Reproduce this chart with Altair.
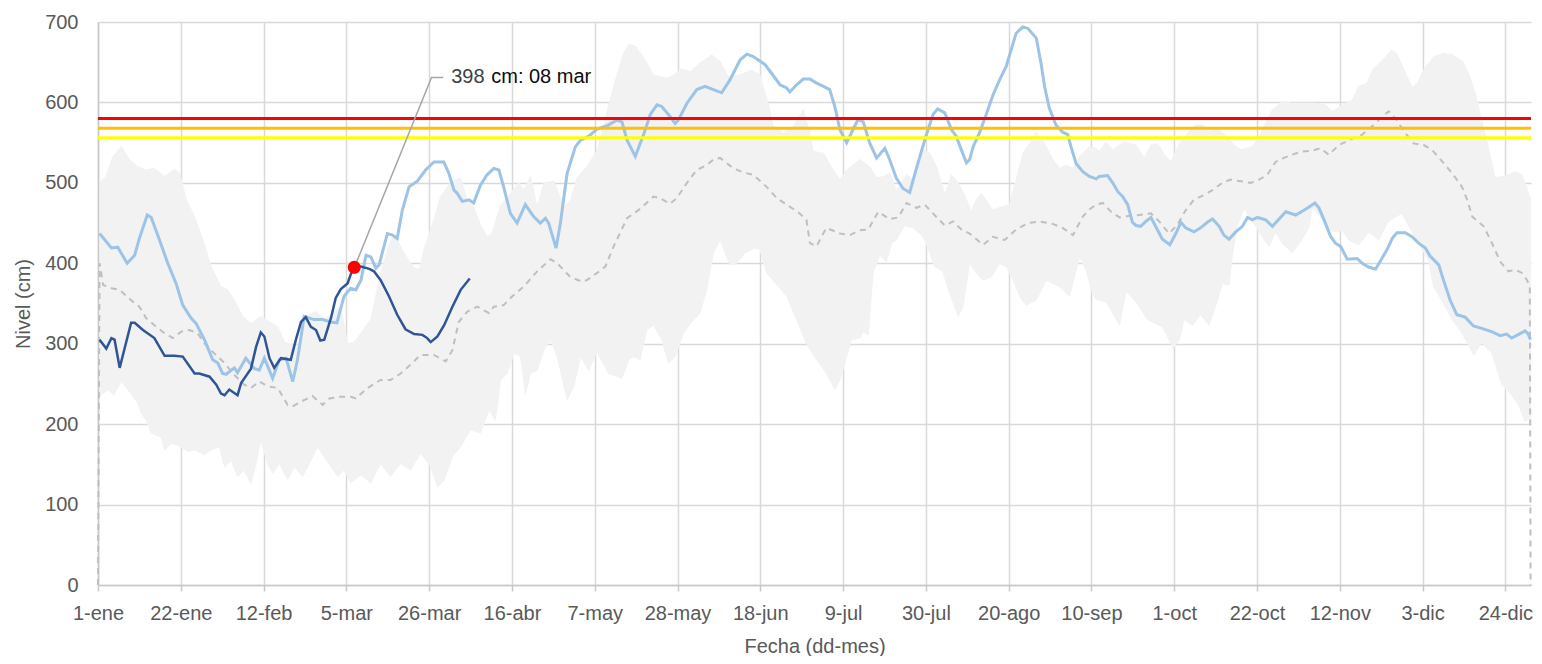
import altair as alt
import pandas as pd

# ---------------- axis text ----------------
tick_days = [0, 21, 42, 63, 84, 105, 126, 147, 168, 189, 210, 231, 252, 273, 294, 315, 336, 357]
tick_labels = ['1-ene', '22-ene', '12-feb', '5-mar', '26-mar', '16-abr', '7-may', '28-may', '18-jun',
               '9-jul', '30-jul', '20-ago', '10-sep', '1-oct', '22-oct', '12-nov', '3-dic', '24-dic']
y_ticks = [0, 100, 200, 300, 400, 500, 600, 700]

# ---------------- historical band (max / min) ----------------
band_hi_day = [0.4, 2, 3.8, 5.9, 8, 10.1, 12.2, 14.3, 16.9, 19.4, 20.7, 22.4, 24.5, 26.6, 28.7, 31.2, 32.9,
               34.6, 36.7, 38.8, 41.3, 43.5, 45.6, 47.3, 50.6, 52.7, 55.3, 57.4, 59.9, 61.6, 63.3, 65,
               69.2, 71.7, 74.2, 75.5, 77.6, 80.2, 81.5, 82.7, 85.2, 86.9, 89.4, 91.9, 93.7, 95.3, 97,
               98.7, 99.9, 102, 104.6, 106.7, 108, 109.7, 111.4, 113.1, 115.7, 118.2, 119.9, 121.5, 124,
               126.6, 130.8, 133.3, 134.6, 136.3, 138.8, 140.9, 144.3, 146, 148.1, 150.2, 152.7, 155.7,
               157.8, 159.9, 162.9, 165.8, 167.9, 170, 171.3, 173.8, 176.4, 178.9, 180.6, 181.4, 184,
               186.5, 188.2, 189.9, 193.2, 195.8, 197.5, 199.3, 200.8, 202.5, 205.1, 206.8, 209.3, 211,
               212.7, 214.8, 216.5, 218.2, 219.8, 221.5, 222.8, 224.1, 227, 229.1, 231.2, 232.9, 234.6,
               236.3, 238, 240.1, 242.2, 243.9, 245.6, 247.3, 249, 251.5, 253.2, 254, 255.7, 257.4, 260.3,
               263.3, 265.4, 267.1, 268.8, 270.5, 272.2, 274.3, 276.4, 278.5, 280.2, 281.8, 284, 286.1,
               288.2, 289.9, 292.8, 294.5, 297.9, 300.4, 302.9, 308.9, 311.4, 313.1, 316.5, 318.2, 319.8,
               321.9, 323.5, 325.6, 328.1, 329.4, 331.7, 333.4, 334.7, 336.4, 338.9, 341.4, 343.5, 346.2,
               347.8, 349.5, 350.6, 351.9, 354.4, 357.8, 359.5, 361.2, 362.6, 363.4]
band_hi_val = [500, 508, 533, 545, 529, 520, 516, 518, 508, 517, 512, 479, 458, 429, 396, 371, 367,
               354, 334, 325, 334, 327, 321, 302, 296, 334, 340, 330, 340, 346, 300, 302,
               330, 388, 429, 433, 413, 394, 392, 417, 454, 483, 500, 506, 479, 470, 448,
               433, 437, 470, 487, 500, 491, 508, 470, 500, 502, 470, 479, 506, 520,
               540, 620, 661, 672, 670, 653, 634, 630, 634, 642, 638, 649, 659,
               651, 632, 634, 640, 634, 599, 570, 562, 570, 591, 562, 539, 537,
               516, 504, 516, 529, 520, 506, 508, 512, 491, 510, 504, 541, 537,
               520, 485, 510, 500, 485, 464, 479, 487, 466, 470, 473, 504, 537,
               549, 563, 549, 529, 518, 522, 518, 533, 545, 543, 539, 551, 541, 551,
               547, 531, 547, 549, 535, 526, 549, 562, 572, 572, 564, 566, 560,
               547, 541, 545, 558, 591, 601, 599, 599, 597, 589, 599, 603, 620,
               624, 642, 651, 665, 661, 636, 618, 624, 642, 657, 661, 659, 651,
               634, 609, 585, 560, 506, 510, 514, 510, 491, 479]
band_lo_day = [0.4, 2.5, 4, 5.9, 8.4, 10.1, 10.9, 12.2, 13.5, 16, 16.9, 18.6, 20.2, 22.8, 24.5, 27,
               28.7, 30.8, 32.1, 33.8, 35.4, 37.1, 38.8, 40.1, 41.3, 43, 44.3, 46, 48.1, 49.8, 51.9,
               53.6, 55.7, 57.4, 59.1, 60.8, 62.4, 64.1, 66.7, 69.2, 71.7, 74.2, 76.8, 79.3, 81.8,
               84.4, 86.1, 87.8, 89.9, 92, 94.5, 97, 99.2, 100.8, 102.1, 103.8, 105.5, 107.2, 108.4,
               109.7, 111.4, 113.1, 114.8, 116.5, 119, 120.7, 122.4, 124.5, 126.6, 129.5, 132.9,
               134.6, 135.8, 137.5, 139.2, 140.9, 143, 144.7, 146.4, 148.5, 150.6, 152.7, 154.4,
               156.1, 157.8, 160.3, 162, 164.1, 166.7, 167.9, 169.6, 172.6, 174.7, 177.2, 179.7,
               182.3, 184.8, 186.9, 188.2, 189.9, 191.1, 193.2, 194.1, 195.4, 196.6, 198.3, 200,
               201.3, 202.5, 204.6, 206.8, 209.3, 211, 212.2, 214.3, 216, 218.2, 219.4, 221.1, 222.8,
               224.5, 226.6, 228.7, 230.4, 232.1, 233.8, 235.4, 238, 240.5, 243.9, 246.4, 249,
               250.6, 252.3, 253.2, 255.7, 257.4, 259.1, 260.8, 263.3, 266.2, 270, 271.7, 272.7,
               274.3, 275.5, 277.6, 279.7, 281.8, 284, 285.2, 286.9, 287.8, 289, 290.7, 293.7,
               295.8, 297.1, 298.7, 300.4, 302.9, 305.4, 307.2, 308, 310.6, 313.1, 315.6, 317.3,
               319.8, 322.4, 324.9, 327, 329.1, 330.8, 332.5, 335, 337.5, 338.8, 340.9, 343.5,
               346, 349, 351, 353.6, 356.1, 358.6, 360.3, 362, 363, 363.4]
band_lo_val = [234, 243, 236, 253, 238, 226, 214, 205, 189, 184, 168, 176, 174, 166, 168, 162,
               168, 172, 147, 155, 135, 143, 126, 151, 180, 151, 139, 151, 131, 147, 135,
               151, 172, 159, 147, 135, 143, 127, 137, 127, 151, 135, 151, 143, 164,
               147, 122, 130, 160, 172, 193, 189, 218, 205, 255, 263, 288, 284, 238,
               263, 267, 292, 305, 284, 230, 247, 284, 267, 290, 263, 257,
               280, 284, 280, 317, 323, 305, 276, 284, 313, 327, 338, 367,
               413, 429, 398, 400, 413, 419, 417, 388, 371, 359, 330, 300,
               280, 263, 243, 255, 284, 305, 307, 315, 311, 388, 410, 402,
               425, 429, 447, 444, 433, 413, 396, 390, 363, 334, 346, 400, 388,
               379, 383, 400, 396, 379, 359, 348, 354, 379, 371, 359, 408,
               392, 362, 355, 352, 338, 323, 365, 352, 330, 321, 305, 294,
               305, 330, 323, 336, 323, 354, 375, 373, 413, 446, 468, 446,
               429, 421, 439, 425, 413, 429, 446, 470, 454, 439, 441, 429,
               423, 439, 429, 450, 458, 462, 446, 425, 404, 371, 354, 330,
               313, 286, 301, 288, 249, 236, 224, 203, 207, 205]

# ---------------- historical mean (dashed) ----------------
mean_day = [0, 0.4, 1.3, 3.4, 5.5, 8.9, 10.5, 12.2, 14.8, 16.9, 19, 21.1, 23.2, 25.3, 27, 29.5, 32.1,
            34.6, 37.1, 38.8, 40.9, 43, 45.6, 48.1, 49.4, 51.5, 54.4, 57, 58.7, 61.6, 64.1, 65.4, 68.4,
            71.7, 74.2, 76.8, 79.3, 81.8, 85.2, 88.2, 89.9, 91.5, 93.7, 96.2, 99.2, 100.4, 102.9,
            105.1, 108, 111.4, 114.8, 116.5, 119.8, 122.8, 124, 126.6, 128.7, 130.8, 134.2, 137.6,
            140.9, 142.6, 145.1, 146.8, 149.4, 151.9, 154.4, 156.1, 157.8, 161.2, 163.7, 166.2,
            169.6, 172.2, 174.7, 178, 179.7, 180.6, 182.3, 183.5, 184.8, 188.2, 190.7, 193.2, 195.4,
            197.9, 200.8, 203, 205.1, 207.6, 209.7, 212.2, 214.8, 216.9, 219, 221.1, 224.5, 227,
            230, 232.9, 235.9, 238.8, 242.2, 244.7, 247.3, 249.8, 251.5, 253.2, 254.9, 257, 259.1,
            261.6, 264.1, 267.1, 269.2, 271.7, 273.8, 275.9, 278, 280.2, 282.7, 285.2, 287.3, 289.9,
            292.4, 294.5, 296.6, 298.7, 300.8, 302.9, 305.4, 308, 310.1, 312.2, 314.8, 317.3, 320.7,
            323.6, 325.7, 327.4, 329.1, 331.6, 333.7, 336.3, 338.4, 340.9, 343.5, 346, 347.3, 348.6,
            351.5, 353.6, 355.7, 357.8, 359.5, 361.2, 362.5, 363.2, 363.4]
mean_val = [0, 400, 373, 369, 367, 352, 346, 332, 321, 313, 307, 315, 317, 313, 300, 288, 276,
            261, 249, 245, 253, 247, 245, 224, 222, 228, 235, 224, 232, 234, 234, 232, 245,
            255, 255, 263, 274, 286, 286, 278, 292, 327, 340, 346, 338, 346, 348,
            359, 371, 390, 405, 400, 383, 377, 379, 388, 396, 421, 456, 468,
            483, 481, 474, 481, 500, 516, 522, 529, 531, 518, 513, 510,
            495, 481, 473, 462, 454, 425, 421, 433, 444, 437, 435, 441, 442,
            464, 455, 457, 475, 469, 473, 460, 447, 452, 442, 437, 423, 433,
            429, 442, 450, 452, 449, 444, 435, 458, 467, 473, 475, 464, 457,
            459, 460, 462, 452, 437, 448, 466, 479, 484, 491, 500, 504, 502,
            500, 504, 510, 526, 531, 535, 539, 540, 543, 535, 547, 553, 560,
            572, 582, 589, 580, 562, 549, 547, 541, 527, 512, 495, 479, 458,
            446, 425, 402, 390, 392, 388, 379, 371, 0]

# ---------------- reference year (light blue) ----------------
ref_day = [0.4, 3.4, 5, 7.4, 9.3, 10.5, 12.5, 13.5, 15.6, 17.7, 19.8, 21.5, 23.6, 24.9, 27, 29.1, 30.4,
           31.6, 32.5, 34.6, 35.4, 37.5, 39.7, 40.9, 42.2, 44.3, 46, 47.7, 49.4, 50.6, 52.3, 54.8, 57,
           59, 60.6, 62.4, 64.1, 65.4, 66.7, 68, 69.2, 70.5, 71.3, 73.4, 74.7, 75.9, 77.2, 78.9, 81,
           83.1, 85.2, 87.7, 89, 90.3, 91.1, 92.4, 94.1, 95.3, 97, 98.7, 100.4, 101.7, 102.9, 104.6,
           106.3, 108.4, 110.5, 112.2, 113.5, 114.3, 116.2, 117.3, 119, 121.1, 122.4, 124.5, 126.6,
           129.1, 131.6, 132.9, 134.2, 136.3, 138.4, 140.1, 141.8, 143, 144.7, 146.4, 147.2, 149.4,
           151.9, 154, 156.1, 158.2, 160.3, 162.9, 164.6, 166.2, 169.2, 170.9, 173, 174.7, 175.5,
           177.2, 178.9, 180.6, 182.3, 184, 185.6, 186.9, 188.2, 189.9, 191.1, 192.8, 194.1, 195.8,
           197.5, 199.6, 200.8, 202.5, 204.2, 205.9, 207.6, 209.7, 211.8, 213, 214.8, 216.5, 217.7,
           219, 220.3, 221.1, 222, 223.6, 225.3, 227, 228.7, 230.4, 231.6, 232.9, 234.6, 235.9, 238,
           239.2, 240.1, 241.3, 243, 244.7, 246, 246.8, 248.1, 249.8, 251.5, 253.2, 254, 256.1,
           257.4, 258.7, 259.9, 261.2, 262.4, 263.3, 264.5, 265.8, 267.1, 270, 271.9, 273.4, 274.7,
           275.9, 278, 279.7, 281.4, 282.7, 284.4, 285.6, 286.9, 288.6, 290.3, 291.6, 292.8, 294.1,
           296.2, 297.9, 301.3, 303.8, 305.9, 307.2, 308.7, 309.7, 311, 312.7, 313.9, 315.2, 316.9,
           319.4, 320.7, 322.4, 324.1, 327, 328.3, 329.5, 331.6, 333.3, 335, 336.7, 337.9, 340.1,
           341.3, 343, 344.7, 346.8, 348.9, 351, 353.5, 355.7, 357.3, 358.6, 360.5, 362, 362.8, 363.4]
ref_val = [437, 419, 420, 400, 410, 431, 460, 457, 429, 400, 375, 348, 332, 325, 305, 280, 276,
           263, 262, 270, 264, 282, 269, 267, 282, 257, 280, 282, 253, 280, 334, 330, 330,
           327, 326, 359, 369, 367, 379, 410, 408, 394, 398, 437, 435, 431, 466, 495, 502,
           516, 526, 526, 512, 491, 487, 477, 479, 475, 497, 510, 518, 516, 495, 462,
           450, 473, 458, 450, 456, 450, 419, 450, 512, 545, 553, 558, 567,
           571, 578, 576, 553, 533, 560, 585, 597, 595, 585, 574, 578, 599,
           616, 620, 616, 612, 628, 653, 660, 657, 647, 636, 622, 618, 613,
           622, 629, 629, 624, 620, 616, 595, 566, 550, 562, 579, 576, 549,
           531, 543, 529, 506, 493, 488, 518, 553, 585, 592, 587, 566, 558,
           541, 525, 529, 545, 562, 585, 609, 628, 645, 665, 686, 694, 692, 680,
           649, 620, 593, 572, 563, 560, 545, 524, 514, 508, 505, 508, 509,
           500, 489, 483, 473, 451, 447, 446, 452, 457, 430, 423, 437, 451,
           444, 439, 444, 451, 455, 446, 435, 430, 439, 446, 457, 454, 457,
           454, 446, 464, 460, 466, 470, 475, 469, 454, 433, 425, 421, 405,
           406, 400, 395, 393, 417, 431, 438, 438, 433, 425, 419, 409, 398,
           379, 354, 336, 333, 322, 319, 315, 310, 312, 307, 312, 316, 312, 305]

# ---------------- current year (dark blue) ----------------
cur_day = [0.4, 2.1, 3.4, 4.2, 5.5, 8.4, 9.3, 11.4, 14.3, 16.9, 19.4, 21.5, 24.5, 25.7, 28.3, 30,
           31.2, 32.1, 33.3, 35.4, 36.3, 38.8, 40.1, 41.3, 42.2, 43.5, 44.7, 46.4, 48.9, 50.2, 51.5,
           52.7, 54, 55.3, 56.4, 57.4, 59.1, 60.3, 61.6, 63.3, 64.1, 65, 66.7, 68.8, 70, 71.7, 73.8,
           75.9, 78, 80.2, 82.3, 83.5, 84.4, 86.1, 87.8, 89.9, 92, 94.3]
cur_val = [305, 294, 307, 305, 270, 326, 326, 317, 307, 285, 285, 284, 263, 263, 259, 249,
           238, 236, 243, 236, 251, 269, 296, 314, 309, 282, 270, 282, 280, 305, 327,
           333, 321, 317, 304, 305, 332, 357, 368, 375, 386, 395, 396, 393, 390, 379, 359,
           336, 318, 312, 311, 307, 302, 309, 323, 346, 367, 381]

# ---------------- thresholds ----------------
thr_val = [580, 568, 556]
thr_color = ['#ff0000', '#ffc000', '#ffff00']

# ---------------- highlighted point + annotation ----------------
pt_day = [65]
pt_val = [395]
leader_day = [65.3, 84.6, 87.6]
leader_val = [398, 631, 631]
label_day = [89.6]
label_val = [631]
label_num = ['398']
label_rest = ['cm: 08 mar']

# ---------------- build tables ----------------
band_df = pd.DataFrame({
    'd': band_hi_day + band_lo_day[::-1],
    'v': band_hi_val + band_lo_val[::-1],
})
band_df['o'] = range(len(band_df))
mean_df = pd.DataFrame({'d': mean_day, 'v': mean_val})
ref_df = pd.DataFrame({'d': ref_day, 'v': ref_val})
cur_df = pd.DataFrame({'d': cur_day, 'v': cur_val})
thr_df = pd.DataFrame({'v': thr_val, 'c': thr_color})
pt_df = pd.DataFrame({'d': pt_day, 'v': pt_val})
leader_df = pd.DataFrame({'d': leader_day, 'v': leader_val})
leader_df['o'] = range(len(leader_df))
lab_df = pd.DataFrame({'d': label_day, 'v': label_val, 'a': label_num, 'b': label_rest})

FONT = 'Liberation Sans'
label_expr = '[' + ','.join("'" + t + "'" for t in tick_labels) + '][round(datum.value/21)]'

x_enc = alt.X('d:Q', scale=alt.Scale(domain=[0, 363.5], nice=False, zero=False),
              axis=alt.Axis(values=tick_days, labelExpr=label_expr, title='Fecha (dd-mes)',
                            grid=True, labelFlush=False, labelOverlap=False,
                            tickSize=6, labelPadding=12, titleY=67, titleBaseline='alphabetic'))
y_enc = alt.Y('v:Q', scale=alt.Scale(domain=[0, 700], nice=False),
              axis=alt.Axis(values=y_ticks, title='Nivel (cm)', grid=True, ticks=False, tickSize=0,
                            labelPadding=20, titleX=-75, titleY=281.5, titleBaseline='middle'))

band = alt.Chart(band_df).mark_line(fill='#f2f2f2', stroke='#f2f2f2', strokeWidth=1).encode(
    x=x_enc, y=y_enc, order='o:Q')
mean = alt.Chart(mean_df).mark_line(color='#bfbfbf', strokeWidth=2, strokeDash=[6, 5]).encode(
    x='d:Q', y='v:Q')
ref = alt.Chart(ref_df).mark_line(color='#9dc3e6', strokeWidth=3).encode(x='d:Q', y='v:Q')
thr = alt.Chart(thr_df).mark_rule(strokeWidth=3).encode(
    y='v:Q', color=alt.Color('c:N', scale=None, legend=None))
cur = alt.Chart(cur_df).mark_line(color='#2f5597', strokeWidth=2.5).encode(x='d:Q', y='v:Q')
leader = alt.Chart(leader_df).mark_line(color='#a6a6a6', strokeWidth=1.5).encode(
    x='d:Q', y='v:Q', order='o:Q')
pt = alt.Chart(pt_df).mark_point(filled=True, color='#ff0000', size=170, opacity=1).encode(
    x='d:Q', y='v:Q')
txt_a = alt.Chart(lab_df).mark_text(align='left', baseline='middle', font=FONT, fontSize=20,
                                    color='#404040').encode(x='d:Q', y='v:Q', text='a:N')
txt_b = alt.Chart(lab_df).mark_text(align='left', baseline='middle', font=FONT, fontSize=20,
                                    color='#0d0d0d', dx=40).encode(x='d:Q', y='v:Q', text='b:N')

chart = alt.layer(band, mean, ref, thr, cur, leader, pt, txt_a, txt_b).properties(
    width=1433, height=563,
    autosize=alt.AutoSizeParams(type='none'),
    padding={'left': 90, 'top': 14, 'right': 3, 'bottom': 71},
).configure_view(stroke=None).configure_axis(
    labelFont=FONT, titleFont=FONT, labelFontSize=20, titleFontSize=20,
    labelColor='#595959', titleColor='#595959', titleFontWeight='normal',
    gridColor='#d9d9d9', gridWidth=1.5, gridOpacity=1,
    domainColor='#c8c8c8', domainWidth=1.5, tickColor='#c8c8c8', tickWidth=1.5,
)

chart.save('out.html', embed_options={'renderer': 'svg', 'actions': False})
